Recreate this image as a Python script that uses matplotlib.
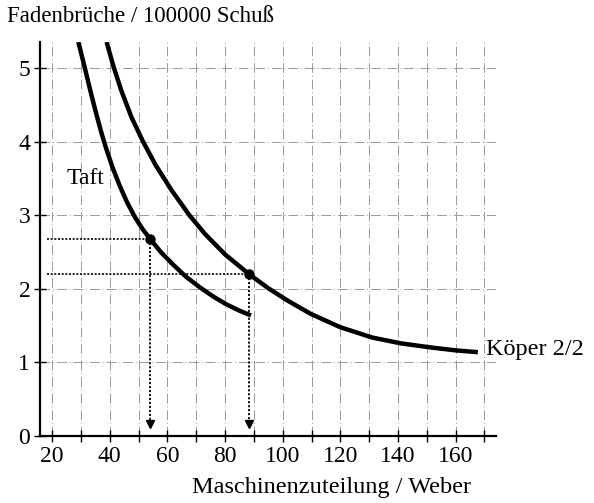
import numpy as np
import matplotlib
matplotlib.use("Agg")
import matplotlib.pyplot as plt

plt.rcParams['font.family'] = ['Liberation Serif', 'DejaVu Serif']

# Kurven
taft_x = [29.1, 31.4, 33.0, 35.0, 37.0, 38.6, 41.0, 43.5, 46.0, 48.7, 51.3, 54.0,
          58.0, 62.0, 66.5, 71.7, 76.0, 80.5, 85.0, 89.0]
taft_y = [5.36, 5.00, 4.74, 4.43, 4.14, 3.93, 3.65, 3.40, 3.18, 2.98, 2.82, 2.68,
          2.49, 2.33, 2.165, 2.01, 1.895, 1.79, 1.705, 1.64]

koeper_x = [38.9, 41.2, 44.0, 47.5, 51.6, 56.0, 61.5, 67.7, 73.0, 80.0, 88.4, 95.0,
            102.0, 109.8, 120.0, 131.0, 141.0, 152.3, 160.0, 167.7]
koeper_y = [5.36, 5.04, 4.70, 4.34, 4.00, 3.68, 3.34, 3.00, 2.75, 2.47, 2.20, 2.01,
            1.835, 1.66, 1.48, 1.34, 1.26, 1.20, 1.165, 1.14]

# Ablesepunkte
read_x = [54, 88.4]
read_y = [2.68, 2.2]

x_ticks = list(range(20, 171, 10))
x_labels = [str(t) if t % 20 == 0 and t <= 160 else "" for t in x_ticks]
y_ticks = [0, 1, 2, 3, 4, 5]

fig = plt.figure(figsize=(5.94, 5.03), dpi=100)
ax = fig.add_axes([40/594, 67/503, 456/594, 394/503])

ax.set_xlim(15.8, 174)
ax.set_ylim(0, 5.36)

# gestricheltes Raster
for t in x_ticks:
    ax.axvline(t, color='0.6', lw=0.7, ls=(0, (10, 3, 1, 3)), zorder=1)
for t in y_ticks[1:]:
    ax.axhline(t, color='0.6', lw=0.7, ls=(0, (10, 3, 1, 3)), zorder=1)

ax.plot(taft_x, taft_y, color='black', lw=3.2, solid_capstyle='butt', solid_joinstyle='round', zorder=3)
ax.plot(koeper_x, koeper_y, color='black', lw=3.2, solid_capstyle='butt', solid_joinstyle='round', zorder=3)

# Hilfslinien mit Pfeilen
for x, y in zip(read_x, read_y):
    ax.plot([18.3, x], [y, y], color='black', lw=1.2, ls=(0, (1.2, 1)), zorder=2)
    ax.plot([x, x], [y, 0.22], color='black', lw=1.3, ls=(0, (1.2, 1)), zorder=2)
    ax.plot(x, 0.17, marker='v', color='black', ms=6, zorder=2)
ax.plot(read_x, read_y, 'o', color='black', ms=6.5, zorder=4)

ax.text(25, 3.5, "Taft", fontsize=17, va='center', ha='left')
ax.text(170.4, 1.17, "Köper 2/2", fontsize=17.5, va='center', ha='left', clip_on=False)

for s in ['top', 'right']:
    ax.spines[s].set_visible(False)
for s in ['left', 'bottom']:
    ax.spines[s].set_linewidth(1.6)

ax.set_xticks(x_ticks)
ax.set_xticklabels(x_labels)
ax.set_yticks(y_ticks)
ax.tick_params(direction='inout', length=8, width=1, labelsize=17, pad=3)

fig.text(7/594, 1 - 17/503, "Fadenbrüche / 100000 Schuß", fontsize=16.5, va='center', ha='left')
fig.text(332/594, 1 - 488/503, "Maschinenzuteilung / Weber", fontsize=17.5, va='center', ha='center')

fig.savefig("out.png", dpi=100)
